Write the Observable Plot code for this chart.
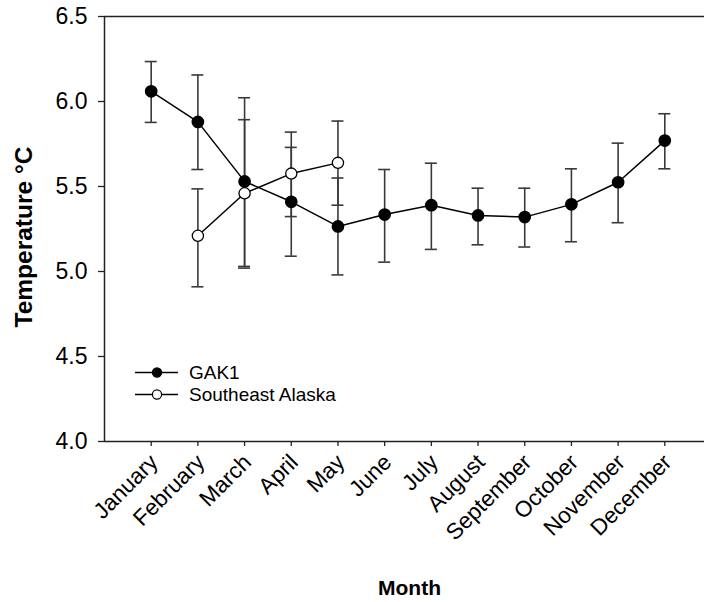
<!DOCTYPE html>
<html><head><meta charset="utf-8">
<script src="https://cdn.jsdelivr.net/npm/d3@7"></script>
<script src="https://cdn.jsdelivr.net/npm/@observablehq/plot@0.6"></script>
<style>
body{margin:0;background:#fff;overflow:hidden}
#chart svg{display:block}
</style>
</head><body><div id="chart"></div>
<script>
// ---- data ----
const months = ["January","February","March","April","May","June","July","August","September","October","November","December"];
const gakMean = [6.06, 5.88, 5.53, 5.41, 5.265, 5.335, 5.39, 5.33, 5.32, 5.395, 5.525, 5.77];
const gakLow  = [5.877, 5.60, 5.03, 5.09, 4.98, 5.055, 5.13, 5.157, 5.144, 5.175, 5.287, 5.604];
const gakHigh = [6.235, 6.156, 6.022, 5.73, 5.55, 5.60, 5.637, 5.49, 5.49, 5.604, 5.755, 5.928];
const seakMonths = ["February","March","April","May"];
const seakMean = [5.21, 5.46, 5.576, 5.639];
const seakLow  = [4.91, 5.02, 5.323, 5.39];
const seakHigh = [5.486, 5.893, 5.82, 5.885];
const yTicks = [4.0, 4.5, 5.0, 5.5, 6.0, 6.5];
const yDomain = [4.0, 6.5];
const xDomain = [0, 13];
const seriesNames = ["GAK1", "Southeast Alaska"];
const yTitle = "Temperature °C";
const xTitle = "Month";

// ---- layout ----
const xRange = [104, 711];
const yRange = [441, 16];
const pxPerX = (xRange[1] - xRange[0]) / (xDomain[1] - xDomain[0]);
const pxPerY = (yRange[0] - yRange[1]) / (yDomain[1] - yDomain[0]);

// ---- tables ----
const gak = months.map((m, k) => ({i: k + 1, m, mean: gakMean[k], lo: gakLow[k], hi: gakHigh[k]}));
const seak = seakMonths.map((m, k) => ({i: months.indexOf(m) + 1, m, mean: seakMean[k], lo: seakLow[k], hi: seakHigh[k]}));
const caps = [...gak, ...seak];
const monthIdx = months.map((m, k) => k + 1);
const capHalf = 6 / pxPerX;     // half cap width (6px) in month units
const yTickLen = 6 / pxPerX;    // y tick length in x units
const xTickLen = 5 / pxPerY;    // x tick length in y units

const font = "Arial, 'Liberation Sans', Helvetica, sans-serif";

function legend() {
  const g = d3.create("svg:g").attr("font-family", font).attr("font-size", 19).attr("text-anchor", "start");
  const rows = [{y: 372.5, fill: "#000"}, {y: 394.5, fill: "#fff"}];
  rows.forEach((r, k) => {
    g.append("line").attr("x1", 135).attr("x2", 178).attr("y1", r.y).attr("y2", r.y)
      .attr("stroke", "#000").attr("stroke-width", 1.3);
    g.append("circle").attr("cx", 157).attr("cy", r.y).attr("r", 4.6)
      .attr("fill", r.fill).attr("stroke", "#000").attr("stroke-width", 1.2);
    g.append("text").attr("x", 189).attr("y", r.y).attr("dy", "0.36em")
      .attr("text-anchor", "start").attr("fill", "#000").text(seriesNames[k]);
  });
  return g.node();
}

const chart = Plot.plot({
  width: 704,
  height: 602,
  marginLeft: 104,
  marginRight: 0,
  marginTop: 16,
  marginBottom: 161,
  style: {fontFamily: font, background: "#fff", color: "#000"},
  x: {type: "linear", domain: xDomain, range: xRange, axis: null},
  y: {domain: yDomain, range: yRange, axis: null},
  marks: [
    // frame lines
    Plot.ruleY([yDomain[1]], {stroke: "#222", strokeWidth: 1.5}),
    Plot.ruleY([yDomain[0]], {stroke: "#222", strokeWidth: 1.5}),
    Plot.ruleX([xDomain[0]], {stroke: "#222", strokeWidth: 1.5}),
    // ticks
    Plot.ruleY(yTicks, {y: d => d, x1: xDomain[0] - yTickLen, x2: xDomain[0], stroke: "#222", strokeWidth: 1.3}),
    Plot.ruleX(monthIdx, {x: d => d, y1: yDomain[0] - xTickLen, y2: yDomain[0], stroke: "#222", strokeWidth: 1.3}),
    // tick labels
    Plot.text(yTicks, {y: d => d, frameAnchor: "left", dx: -17, textAnchor: "end", lineAnchor: "middle",
      text: d3.format(".1f"), fontSize: 23, fill: "#000"}),
    Plot.text(monthIdx, {x: d => d, frameAnchor: "bottom", dx: 3, dy: 17, rotate: -45, textAnchor: "end",
      lineAnchor: "middle", text: d => months[d - 1], fontSize: 22.5, fill: "#000"}),
    // error bars
    Plot.ruleX(caps, {x: "i", y1: "lo", y2: "hi", stroke: "#3a3a3a", strokeWidth: 1.6}),
    Plot.ruleY(caps, {x1: d => d.i - capHalf, x2: d => d.i + capHalf, y: "lo", stroke: "#3a3a3a", strokeWidth: 1.6}),
    Plot.ruleY(caps, {x1: d => d.i - capHalf, x2: d => d.i + capHalf, y: "hi", stroke: "#3a3a3a", strokeWidth: 1.6}),
    // lines
    Plot.line(gak, {x: "i", y: "mean", stroke: "#000", strokeWidth: 1.5}),
    Plot.line(seak, {x: "i", y: "mean", stroke: "#000", strokeWidth: 1.5}),
    // dots
    Plot.dot(gak, {x: "i", y: "mean", r: 5.6, fill: "#000", stroke: "#000"}),
    Plot.dot(seak, {x: "i", y: "mean", r: 5.6, fill: "#fff", stroke: "#000", strokeWidth: 1.3}),
    // titles
    Plot.text([yTitle], {frameAnchor: "left", textAnchor: "middle", dx: -80, dy: 8, rotate: -90, fontSize: 24.5, fontWeight: "bold", fill: "#000"}),
    Plot.text([xTitle], {frameAnchor: "bottom", textAnchor: "middle", dx: 5, dy: 147, lineAnchor: "middle", fontSize: 21, fontWeight: "bold", fill: "#000"}),
    legend
  ]
});
document.getElementById("chart").appendChild(chart);
</script>
</body></html>
